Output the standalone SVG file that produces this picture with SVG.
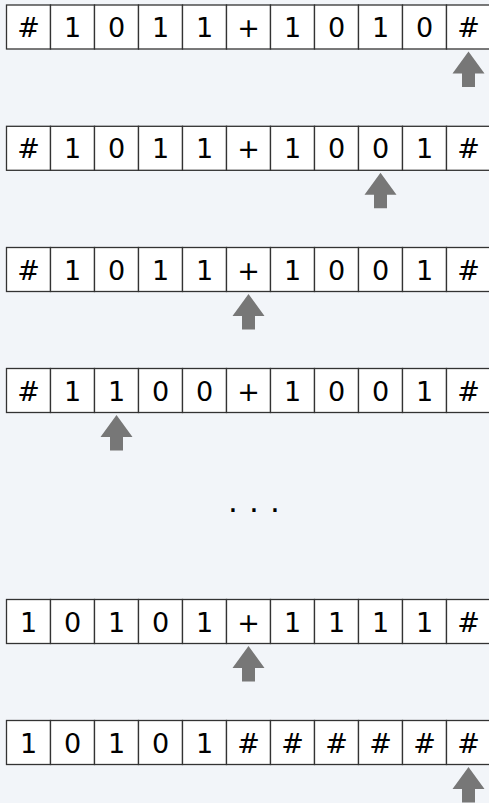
<svg xmlns="http://www.w3.org/2000/svg" width="489" height="803" viewBox="0 0 489 803">
<style>
.cell{fill:#ffffff;stroke:#333333;stroke-width:1.3}
.t{font-family:"DejaVu Sans",sans-serif;font-size:27px;fill:#000000;text-anchor:middle}
.dots{font-family:"DejaVu Sans",sans-serif;font-size:31px;fill:#000000;text-anchor:middle}
.head{fill:#777777}
</style>
<defs>
<path id="arrow" d="M0,0 L16,22 L6.5,22 L6.5,35.5 L-6.5,35.5 L-6.5,22 L-16,22 Z"/>
<g id="cells">
<rect class="cell" x="6.5" y="0" width="44" height="44"/>
<rect class="cell" x="50.5" y="0" width="44" height="44"/>
<rect class="cell" x="94.5" y="0" width="44" height="44"/>
<rect class="cell" x="138.5" y="0" width="44" height="44"/>
<rect class="cell" x="182.5" y="0" width="44" height="44"/>
<rect class="cell" x="226.5" y="0" width="44" height="44"/>
<rect class="cell" x="270.5" y="0" width="44" height="44"/>
<rect class="cell" x="314.5" y="0" width="44" height="44"/>
<rect class="cell" x="358.5" y="0" width="44" height="44"/>
<rect class="cell" x="402.5" y="0" width="44" height="44"/>
<rect class="cell" x="446.5" y="0" width="44" height="44"/>
</g>
</defs>
<rect x="0" y="0" width="489" height="803" fill="#f2f5f9"/>

<g id="tape1" transform="translate(0,5)">
<use href="#cells"/>
<text class="t" y="32"><tspan x="28.5">#</tspan><tspan x="72.5">1</tspan><tspan x="116.5">0</tspan><tspan x="160.5">1</tspan><tspan x="204.5">1</tspan><tspan x="248.5">+</tspan><tspan x="292.5">1</tspan><tspan x="336.5">0</tspan><tspan x="380.5">1</tspan><tspan x="424.5">0</tspan><tspan x="468.5">#</tspan></text>
<use class="head" href="#arrow" x="468.5" y="46.5"/>
</g>

<g id="tape2" transform="translate(0,126.3)">
<use href="#cells"/>
<text class="t" y="32"><tspan x="28.5">#</tspan><tspan x="72.5">1</tspan><tspan x="116.5">0</tspan><tspan x="160.5">1</tspan><tspan x="204.5">1</tspan><tspan x="248.5">+</tspan><tspan x="292.5">1</tspan><tspan x="336.5">0</tspan><tspan x="380.5">0</tspan><tspan x="424.5">1</tspan><tspan x="468.5">#</tspan></text>
<use class="head" href="#arrow" x="380.5" y="46.5"/>
</g>

<g id="tape3" transform="translate(0,247.5)">
<use href="#cells"/>
<text class="t" y="32"><tspan x="28.5">#</tspan><tspan x="72.5">1</tspan><tspan x="116.5">0</tspan><tspan x="160.5">1</tspan><tspan x="204.5">1</tspan><tspan x="248.5">+</tspan><tspan x="292.5">1</tspan><tspan x="336.5">0</tspan><tspan x="380.5">0</tspan><tspan x="424.5">1</tspan><tspan x="468.5">#</tspan></text>
<use class="head" href="#arrow" x="248.5" y="46.5"/>
</g>

<g id="tape4" transform="translate(0,368.5)">
<use href="#cells"/>
<text class="t" y="32"><tspan x="28.5">#</tspan><tspan x="72.5">1</tspan><tspan x="116.5">1</tspan><tspan x="160.5">0</tspan><tspan x="204.5">0</tspan><tspan x="248.5">+</tspan><tspan x="292.5">1</tspan><tspan x="336.5">0</tspan><tspan x="380.5">0</tspan><tspan x="424.5">1</tspan><tspan x="468.5">#</tspan></text>
<use class="head" href="#arrow" x="116.5" y="46.5"/>
</g>

<g id="ellipsis">
<text class="dots" y="511.5"><tspan x="233">.</tspan><tspan x="254">.</tspan><tspan x="275">.</tspan></text>
</g>

<g id="tape5" transform="translate(0,599.5)">
<use href="#cells"/>
<text class="t" y="32"><tspan x="28.5">1</tspan><tspan x="72.5">0</tspan><tspan x="116.5">1</tspan><tspan x="160.5">0</tspan><tspan x="204.5">1</tspan><tspan x="248.5">+</tspan><tspan x="292.5">1</tspan><tspan x="336.5">1</tspan><tspan x="380.5">1</tspan><tspan x="424.5">1</tspan><tspan x="468.5">#</tspan></text>
<use class="head" href="#arrow" x="248.5" y="46.5"/>
</g>

<g id="tape6" transform="translate(0,720.5)">
<use href="#cells"/>
<text class="t" y="32"><tspan x="28.5">1</tspan><tspan x="72.5">0</tspan><tspan x="116.5">1</tspan><tspan x="160.5">0</tspan><tspan x="204.5">1</tspan><tspan x="248.5">#</tspan><tspan x="292.5">#</tspan><tspan x="336.5">#</tspan><tspan x="380.5">#</tspan><tspan x="424.5">#</tspan><tspan x="468.5">#</tspan></text>
<use class="head" href="#arrow" x="468.5" y="46.5"/>
</g>

<g id="connectors"></g>
</svg>
